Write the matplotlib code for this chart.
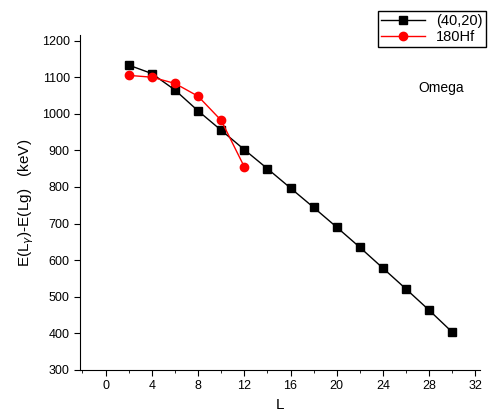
import matplotlib
matplotlib.use("Agg")
import matplotlib.pyplot as plt
from matplotlib.ticker import MultipleLocator

plt.rcParams['font.family'] = ['Liberation Sans', 'DejaVu Sans']

# spin values and energy differences (keV)
L_model = [2, 4, 6, 8, 10, 12, 14, 16, 18, 20, 22, 24, 26, 28, 30]
E_model = [1133, 1110, 1065, 1008, 955, 902, 850, 797, 744, 690, 635, 578, 521, 463, 403]
L_hf = [2, 4, 6, 8, 10, 12]
E_hf = [1105, 1100, 1083, 1048, 982, 855]

fig = plt.figure(figsize=(4.98, 4.18), dpi=100)
ax = fig.add_axes([0.161, 0.115, 0.803, 0.801])

ax.plot(L_model, E_model, color='black', marker='s', markersize=5.5, linewidth=1, label='(40,20)')
ax.plot(L_hf, E_hf, color='red', marker='o', markersize=6, linewidth=1, label='180Hf')

ax.set_xlim(-2.2, 32.4)
ax.set_ylim(300, 1215)
ax.xaxis.set_major_locator(MultipleLocator(4))
ax.xaxis.set_minor_locator(MultipleLocator(2))
ax.yaxis.set_major_locator(MultipleLocator(100))
ax.tick_params(which='both', direction='out', labelsize=9)
ax.tick_params(which='major', length=4)
ax.tick_params(which='minor', length=2.5)
ax.spines['top'].set_visible(False)
ax.spines['right'].set_visible(False)

ax.set_xlabel('L', fontsize=11)
ax.set_ylabel(r'E(L$_{\gamma}$)-E(Lg)   (keV)', fontsize=11)
ax.text(29.0, 1070, 'Omega', fontsize=10, ha='center', va='center')

leg = fig.legend(loc='upper right', bbox_to_anchor=(0.99, 0.99), fontsize=10.5,
                 fancybox=False, framealpha=1, edgecolor='black',
                 handlelength=3, borderpad=0.2, labelspacing=0.1)
leg.get_frame().set_linewidth(1)

fig.savefig('out.png', dpi=100)
